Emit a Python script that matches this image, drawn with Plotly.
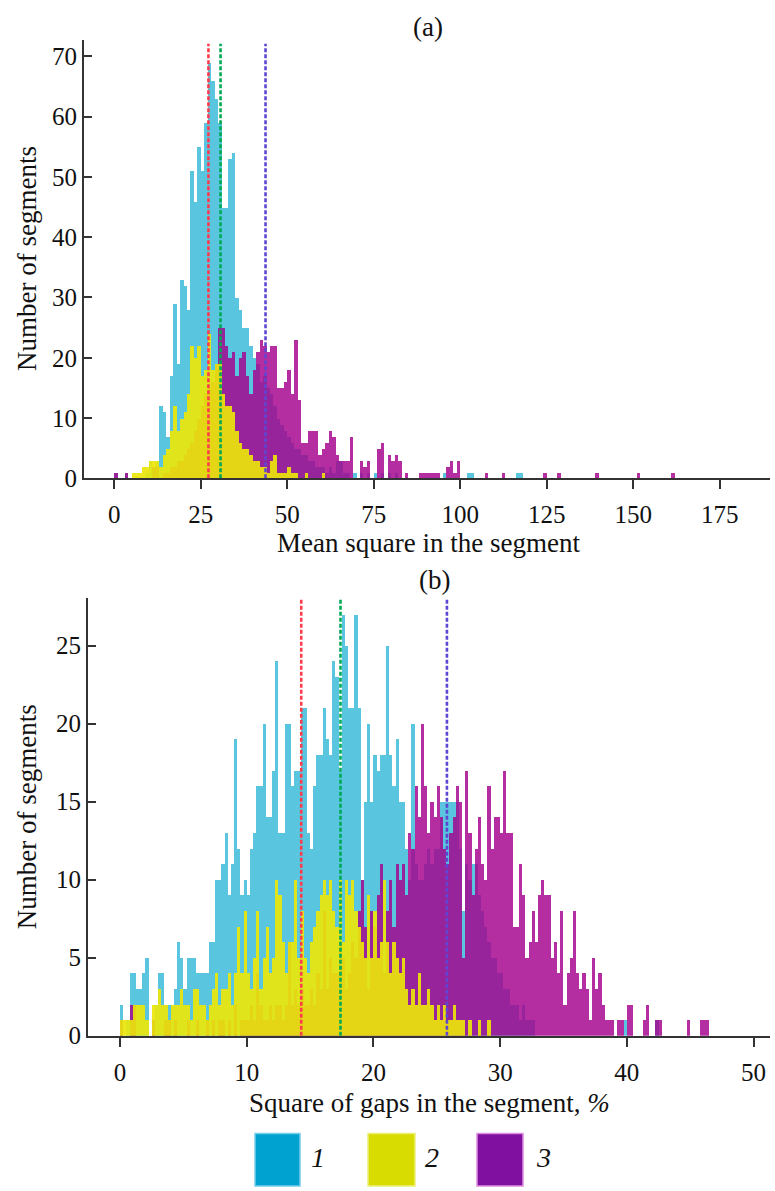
import numpy as np
import plotly.graph_objects as go

# ---------------- DATA ----------------
# Panel (a): histogram of mean square in the segment, bins of width 1 starting at 0
bin_a = 1.0
start_a = 0.0
cyan_a = [
    1, 0, 0, 1, 0, 0, 0, 0, 0, 1,
    3, 2, 3, 12, 11, 7, 17, 29, 19, 33,
    32, 28, 51, 46, 55, 51, 59, 69, 66, 63,
    59, 45, 45, 53, 54, 30, 28, 25, 25, 22,
    20, 19, 16, 17, 15, 14, 12, 10, 9, 8,
    7, 6, 5, 5, 4, 4, 3, 3, 2, 2,
    2, 1, 2, 1, 3, 3, 1, 1, 0, 1,
    0, 1, 0, 1, 0, 1, 0, 1, 0, 1,
    0, 1, 0, 0, 0, 0, 0, 0, 0, 0,
    0, 0, 0, 0, 0, 1, 0, 0, 0, 0,
    0, 0, 1, 1, 0, 0, 0, 0, 0, 0,
    0, 0, 0, 0, 0, 0, 1, 1, 0, 0,
]
yellow_a = [
    0, 0, 0, 0, 0, 1, 1, 1, 2, 2,
    3, 3, 3, 2, 4, 5, 8, 12, 8, 10,
    11, 14, 22, 20, 22, 17, 18, 24, 18, 19,
    19, 14, 12, 12, 11, 8, 6, 5, 5, 4,
    3, 3, 2, 2, 1, 3, 4, 1, 1, 1,
    2, 1, 1, 0, 0, 1, 0, 0, 0, 0,
    1, 0, 0, 0, 0, 0, 0, 0, 0, 0,
]
purple_a = [
    1, 0, 0, 1, 0, 0, 0, 0, 0, 0,
    0, 2, 2, 0, 1, 1, 2, 2, 3, 3,
    4, 5, 6, 8, 10, 12, 14, 15, 16, 19,
    25, 25, 22, 20, 21, 17, 20, 21, 17, 14,
    18, 21, 23, 22, 21, 22, 22, 15, 15, 16,
    18, 14, 23, 13, 6, 6, 8, 8, 8, 4,
    5, 6, 8, 7, 4, 3, 3, 3, 7, 0,
    0, 3, 2, 3, 0, 0, 5, 6, 0, 4,
    3, 4, 3, 0, 1, 0, 0, 0, 1, 1,
    1, 1, 1, 1, 0, 0, 2, 3, 1, 3,
    0, 0, 0, 0, 0, 0, 0, 1, 0, 0,
    0, 0, 1, 0, 0, 0, 0, 0, 0, 0,
    0, 0, 0, 0, 1, 0, 0, 0, 1, 0,
    0, 0, 0, 0, 0, 0, 0, 0, 0, 1,
    0, 0, 0, 0, 0, 0, 0, 0, 0, 0,
    0, 1, 0, 0, 0, 0, 0, 0, 0, 0,
    0, 1,
]
means_a = [27.2, 30.7, 43.7]

# Panel (b): histogram of square of gaps (%), bins of width 0.25 starting at 0
bin_b = 0.25
start_b = 0.0
cyan_b = [
    2, 0, 1, 4,   4, 3, 3, 4,   5, 0, 1, 2,   4, 4, 2, 2,
    2, 3, 6, 5,   3, 5, 5, 5,   4, 4, 4, 4,   6, 6, 10, 10,
    11, 13, 9, 11,   19, 12, 9, 10,   9, 12, 13, 16,   16, 20, 14, 14,
    17, 24, 13, 13,   20, 20, 16, 17,   17, 21, 21, 13,   12, 16, 18, 18,
    21, 19, 18, 24,   23, 17, 27, 25,   21, 21, 27, 21,   10, 15, 20, 15,
    18, 17, 18, 18,   25, 18, 16, 19,   15, 15, 12, 10,   20, 11, 10, 10,
    11, 12, 11, 12,   12, 15, 15, 15,   15, 15, 15, 12,   8, 11, 10, 11,
    11, 9, 8, 7,   6, 5, 5, 4,   4, 3, 3, 2,   2, 2, 1, 2,
    1, 1, 1, 0,   0, 0, 0, 0,   0, 0, 0, 0,   0, 0, 0, 0,
    0, 0, 0, 0,   0, 0, 0, 0,   0, 0, 0, 0,   0, 0, 0, 1,
    0, 0, 0, 0,   0, 0, 0, 0,   0, 1, 0, 0,
]
yellow_b = [
    1, 1, 1, 1,   2, 2, 2, 2,   1, 0, 2, 2,   3, 2, 2, 1,
    2, 2, 2, 3,   2, 2, 1, 3,   3, 2, 2, 1,   2, 3, 4, 2,
    3, 3, 4, 2,   4, 7, 4, 8,   4, 3, 5, 8,   3, 5, 7, 4,
    5, 10, 9, 6,   4, 6, 6, 10,   5, 8, 5, 4,   6, 7, 8, 9,
    10, 9, 10, 8,   7, 10, 6, 10,   9, 10, 8, 7,   6, 5, 9, 5,
    8, 5, 6, 10,   6, 4, 6, 5,   4, 5, 3, 2,   3, 2, 4, 2,
    2, 3, 2, 1,   2, 1, 2, 1,   1, 2, 1, 1,   1, 0, 1, 0,
    0, 1, 0, 0,   1, 0, 0, 0,
]
purple_b = [
    1, 0, 0, 2,   2, 0, 0, 0,   0, 0, 1, 0,   0, 0, 1, 1,
    0, 1, 0, 0,   0, 1, 0, 0,   1, 0, 0, 1,   0, 1, 0, 1,
    1, 0, 1, 0,   2, 0, 1, 1,   1, 2, 1, 4,   2, 1, 1, 2,
    1, 2, 2, 1,   2, 6, 2, 3,   2, 3, 2, 2,   3, 2, 4, 3,
    8, 3, 5, 4,   4, 6, 5, 3,   4, 6, 5, 8,   10, 7, 3, 8,
    7, 9, 11, 4,   8, 10, 7, 11,   10, 11, 9, 13,   12, 16, 14, 20,
    16, 13, 15, 14,   16, 14, 12, 11,   13, 14, 16, 15,   5, 17, 13, 9,
    12, 14, 11, 10,   16, 12, 14, 14,   13, 17, 13, 13,   7, 7, 11, 9,
    5, 6, 8, 6,   9, 10, 9, 9,   5, 6, 4, 8,   2, 4, 5, 8,
    4, 3, 4, 3,   1, 5, 3, 4,   2, 1, 1, 1,   0, 1, 1, 0,
    2, 2, 0, 0,   0, 1, 2, 0,   0, 1, 1, 0,   0, 0, 0, 0,
    0, 0, 0, 1,   0, 0, 0, 1,   1, 1, 0, 0,
]
means_b = [14.3, 17.4, 25.8]

series_names = ["1", "2", "3"]
ticks_a_x = [0, 25, 50, 75, 100, 125, 150, 175]
ticks_a_y = [0, 10, 20, 30, 40, 50, 60, 70]
ticks_b_x = [0, 10, 20, 30, 40, 50]
ticks_b_y = [0, 5, 10, 15, 20, 25]

# ---------------- STYLE ----------------
W, H = 775, 1191
FONT = "Liberation Serif"
fill_cols = ["rgb(90,197,222)", "rgba(234,230,10,0.92)", "rgba(165,0,140,0.82)"]
mean_cols = ["rgb(255,60,75)", "rgb(0,170,85)", "rgb(95,70,210)"]
legend_cols = ["rgb(0,162,208)", "rgb(216,220,0)", "rgb(128,16,160)"]
legend_edge = ["rgb(120,205,235)", "rgb(236,238,120)", "rgb(222,140,222)"]
AX = "#333333"


def px(x):
    return x / W


def py(y):
    return 1 - y / H


fig = go.Figure()

# draw order: cyan (back), purple, yellow (front)
order = [0, 2, 1]
panels = [
    (start_a, bin_a, [cyan_a, yellow_a, purple_a], "x", "y"),
    (start_b, bin_b, [cyan_b, yellow_b, purple_b], "x2", "y2"),
]
for start, bw, data, xa, ya in panels:
    for i in order:
        vals = np.array(data[i], dtype=float)
        centers = start + bw * (np.arange(len(vals)) + 0.5)
        fig.add_trace(go.Bar(
            x=centers, y=vals, width=bw,
            marker=dict(color=fill_cols[i], line=dict(width=0)),
            name=series_names[i], showlegend=False,
            xaxis=xa, yaxis=ya,
        ))

# dashed mean lines
for means, xr, yr, top in [(means_a, "x", "y", 72.1), (means_b, "x2", "y2", 28.0)]:
    for m, c in zip(means, mean_cols):
        fig.add_shape(type="line", xref=xr, yref=yr, x0=m, x1=m, y0=0, y1=top,
                      line=dict(color=c, width=2.6, dash="4px,2px"), layer="above")

axis_common = dict(showline=True, linecolor=AX, linewidth=2, showgrid=False,
                   zeroline=False, tickcolor=AX, tickwidth=2,
                   tickfont=dict(family=FONT, size=25, color="#111"))

fig.update_layout(
    width=W, height=H, autosize=False,
    margin=dict(l=0, r=0, t=0, b=0),
    paper_bgcolor="white", plot_bgcolor="white",
    barmode="overlay", bargap=0,
    xaxis=dict(domain=[px(84), px(770)], anchor="y", range=[-8.76, 189.5],
               tickvals=ticks_a_x, ticks="outside", ticklen=9, ticklabelstandoff=4,
               **axis_common),
    yaxis=dict(domain=[py(484), py(40)], anchor="x", range=[0, 72.8],
               tickvals=ticks_a_y, ticks="inside", ticklen=8, ticklabelstandoff=0,
               **axis_common),
    xaxis2=dict(domain=[px(88), px(770)], anchor="y2", range=[-2.53, 51.3],
                tickvals=ticks_b_x, ticks="outside", ticklen=9, ticklabelstandoff=4,
                **axis_common),
    yaxis2=dict(domain=[py(1048), py(605)], anchor="x2", range=[0, 28.06],
                tickvals=ticks_b_y, ticks="inside", ticklen=8, ticklabelstandoff=0,
                **axis_common),
)

tfont = dict(family=FONT, size=27, color="#111")
annots = [
    dict(text="(a)", x=px(428), y=py(27)),
    dict(text="Mean square in the segment", x=px(428.5), y=py(549)),
    dict(text="(b)", x=px(434), y=py(587)),
    dict(text="Square of gaps in the segment, <i>%</i>", x=px(429), y=py(1116)),
    dict(text="Number of segments", x=px(27), y=py(262), textangle=-90),
    dict(text="Number of segments", x=px(27), y=py(827), textangle=-90),
]
for a in annots:
    fig.add_annotation(xref="paper", yref="paper", showarrow=False,
                       xanchor="center", yanchor="middle", font=tfont, **a)

# legend (bottom): coloured squares with italic labels
sq_x = [(255, 300), (368, 415), (477, 523)]
lab_x = [318, 432, 543]
for i in range(3):
    fig.add_shape(type="rect", xref="paper", yref="paper",
                  x0=px(sq_x[i][0]), x1=px(sq_x[i][1]), y0=py(1200), y1=py(1147),
                  fillcolor=legend_cols[i], line=dict(color=legend_edge[i], width=1.5))
    fig.add_annotation(xref="paper", yref="paper", showarrow=False,
                       x=px(lab_x[i]), y=py(1171), xanchor="center", yanchor="middle",
                       text="<i>" + series_names[i] + "</i>",
                       font=dict(family=FONT, size=28, color="#111"))

fig.write_html(
    "out.html",
    config={"displayModeBar": False},
    post_script="document.body.style.margin='0';document.body.style.overflow='hidden';",
)
